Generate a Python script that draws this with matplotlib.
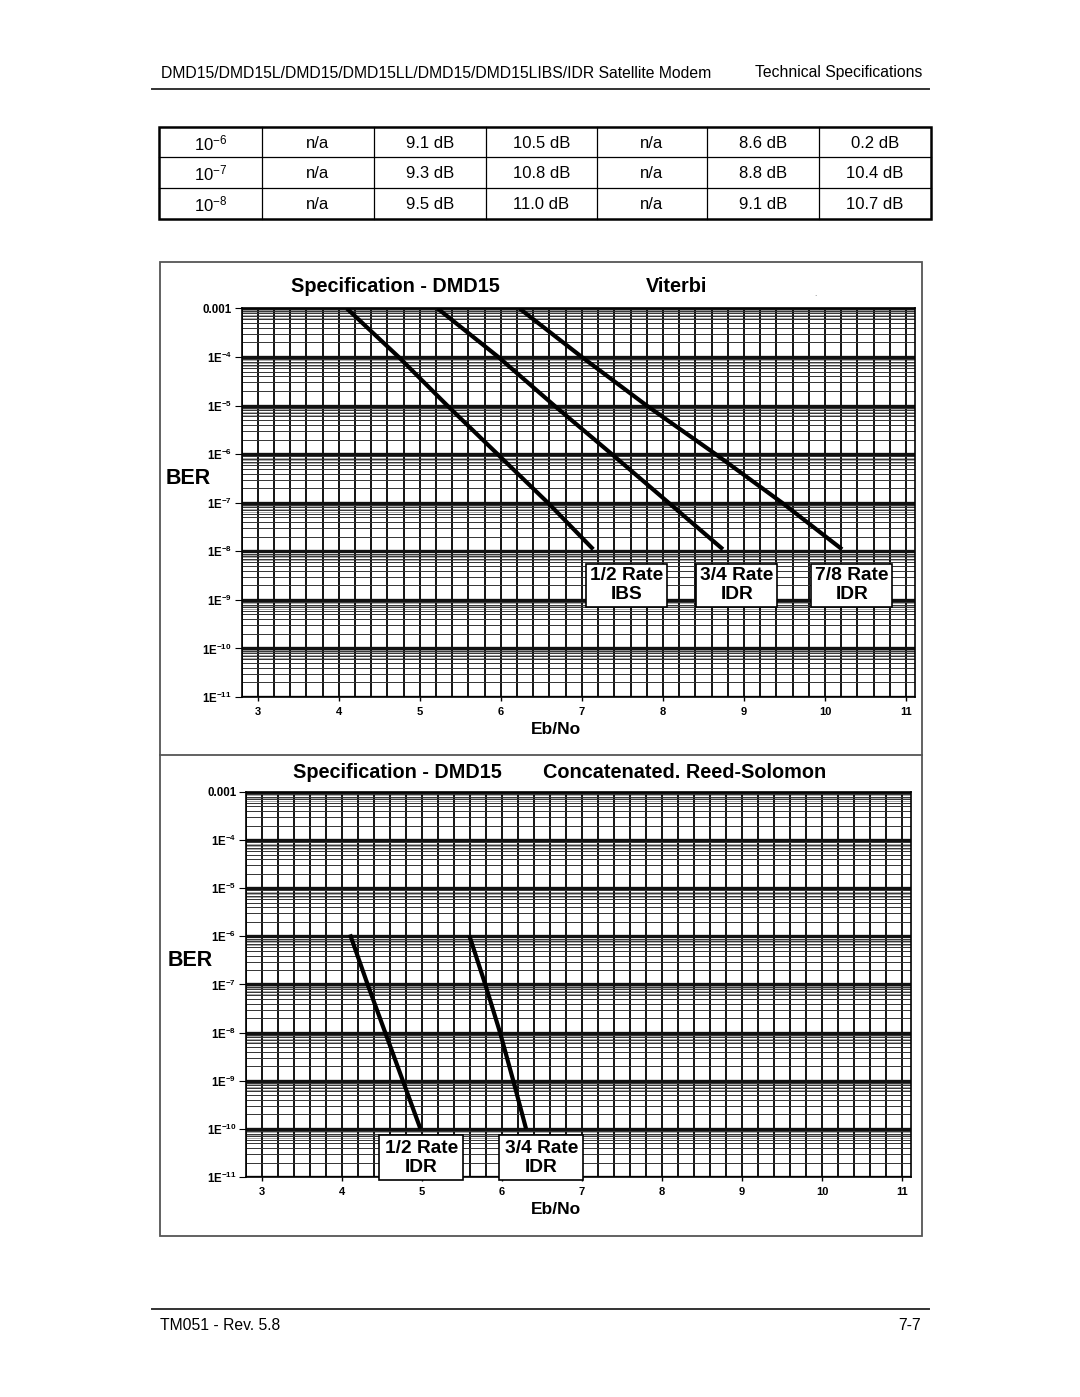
import matplotlib
matplotlib.use('Agg')
import matplotlib.pyplot as plt
import numpy as np
from matplotlib.patches import Rectangle
from matplotlib.ticker import LogLocator, NullFormatter

plt.rcParams['font.family'] = ['Liberation Sans', 'DejaVu Sans']
plt.rcParams['mathtext.fontset'] = 'custom'
plt.rcParams['mathtext.rm'] = 'Liberation Sans'
plt.rcParams['mathtext.bf'] = 'Liberation Sans:bold'
plt.rcParams['mathtext.it'] = 'Liberation Sans:italic'

# ---------------- data ----------------
header_left = "DMD15/DMD15L/DMD15/DMD15LL/DMD15/DMD15LIBS/IDR Satellite Modem"
header_right = "Technical Specifications"
footer_left = "TM051 - Rev. 5.8"
footer_right = "7-7"

table_ber_exp = ["-6", "-7", "-8"]
table_col1 = ["n/a", "n/a", "n/a"]
table_col2 = ["9.1 dB", "9.3 dB", "9.5 dB"]
table_col3 = ["10.5 dB", "10.8 dB", "11.0 dB"]
table_col4 = ["n/a", "n/a", "n/a"]
table_col5 = ["8.6 dB", "8.8 dB", "9.1 dB"]
table_col6 = ["0.2 dB", "10.4 dB", "10.7 dB"]

x_ticks = [3, 4, 5, 6, 7, 8, 9, 10, 11]
y_ticks = [1e-3, 1e-4, 1e-5, 1e-6, 1e-7, 1e-8, 1e-9, 1e-10, 1e-11]
y_tick_labels = ["0.001", r"$\mathbf{1E^{-4}}$", r"$\mathbf{1E^{-5}}$", r"$\mathbf{1E^{-6}}$",
                 r"$\mathbf{1E^{-7}}$", r"$\mathbf{1E^{-8}}$", r"$\mathbf{1E^{-9}}$",
                 r"$\mathbf{1E^{-10}}$", r"$\mathbf{1E^{-11}}$"]

# Viterbi curves (Eb/No dB, BER)
vit_half_ibs_x = [4.10, 4.74, 5.34, 5.96, 6.58, 7.14]
vit_half_ibs_y = [1e-3, 1e-4, 1e-5, 1e-6, 1e-7, 1.1e-8]
vit_34_idr_x = [5.22, 5.97, 6.66, 7.37, 8.07, 8.74]
vit_34_idr_y = [1e-3, 1e-4, 1e-5, 1e-6, 1e-7, 1.1e-8]
vit_78_idr_x = [6.23, 7.00, 7.80, 8.65, 9.47, 10.21]
vit_78_idr_y = [1e-3, 1e-4, 1e-5, 1e-6, 1e-7, 1.1e-8]

# Concatenated Reed-Solomon curves
rs_half_idr_x = [4.10, 4.32, 4.54, 4.76, 4.98]
rs_half_idr_y = [1.1e-6, 1e-7, 1e-8, 1e-9, 1e-10]
rs_34_idr_x = [5.59, 5.79, 5.975, 6.14, 6.30]
rs_34_idr_y = [1.05e-6, 1e-7, 1e-8, 1e-9, 1e-10]

vit_labels = ["1/2 Rate\nIBS", "3/4 Rate\nIDR", "7/8 Rate\nIDR"]
rs_labels = ["1/2 Rate\nIDR", "3/4 Rate\nIDR"]

# ---------------- figure ----------------
W, H = 1080, 1397
fig = plt.figure(figsize=(W / 100, H / 100), dpi=100)
fig.patch.set_facecolor('white')

page = fig.add_axes([0, 0, 1, 1])
page.set_xlim(0, W)
page.set_ylim(H, 0)
page.axis('off')
page.set_zorder(0)

hfs = 11.3
page.text(161, 73, header_left, fontsize=hfs, ha='left', va='center')
page.text(922, 73, header_right, fontsize=hfs, ha='right', va='center')
page.plot([152, 929], [89, 89], color='#333333', lw=1.4)

page.plot([152, 929], [1309, 1309], color='#333333', lw=1.4)
page.text(160, 1326, footer_left, fontsize=hfs, ha='left', va='center')
page.text(921, 1326, footer_right, fontsize=hfs, ha='right', va='center')

# table
col_edges = [159, 262, 374, 486, 597, 707, 819, 931]
row_edges = [127, 157, 188, 219]
for xe in col_edges[1:-1]:
    page.plot([xe, xe], [row_edges[0], row_edges[-1]], color='black', lw=0.9)
for ye in row_edges[1:-1]:
    page.plot([col_edges[0], col_edges[-1]], [ye, ye], color='black', lw=0.9)
page.add_patch(Rectangle((col_edges[0], row_edges[0]), col_edges[-1] - col_edges[0],
                         row_edges[-1] - row_edges[0], fill=False, ec='black', lw=1.8))
cols = [table_col1, table_col2, table_col3, table_col4, table_col5, table_col6]
for r in range(3):
    yc = (row_edges[r] + row_edges[r + 1]) / 2 + 1
    xc0 = (col_edges[0] + col_edges[1]) / 2
    page.text(xc0, yc, "10$^{\\mathregular{" + table_ber_exp[r] + "}}$", fontsize=12,
              ha='center', va='center')
    for c in range(6):
        xc = (col_edges[c + 1] + col_edges[c + 2]) / 2
        page.text(xc, yc, cols[c][r], fontsize=12, ha='center', va='center')

# chart frame
page.add_patch(Rectangle((160, 262), 762, 974, fill=False, ec='#555555', lw=1.3))
page.plot([160, 922], [755, 755], color='#555555', lw=1.3)

# titles
tfs = 14.3
page.text(395, 287, "Specification - DMD15", fontsize=tfs, fontweight='bold', ha='center', va='center')
page.text(677, 287, "Viterbi", fontsize=tfs, fontweight='bold', ha='center', va='center')
page.text(815, 294, ".", fontsize=6, ha='center', va='center', color='#666666')
page.text(397, 772, "Specification - DMD15", fontsize=tfs, fontweight='bold', ha='center', va='center')
page.text(685, 772, "Concatenated. Reed-Solomon", fontsize=tfs, fontweight='bold', ha='center', va='center')
page.text(188, 478, "BER", fontsize=15.5, fontweight='bold', ha='center', va='center')
page.text(190, 960, "BER", fontsize=15.5, fontweight='bold', ha='center', va='center')
page.text(556, 730, "Eb/No", fontsize=12.5, fontweight='bold', ha='center', va='center')
page.text(556, 1209, "Eb/No", fontsize=12.5, fontweight='bold', ha='center', va='center')


def setup_chart(rect):
    ax = fig.add_axes(rect)
    ax.set_zorder(2)
    ax.set_yscale('log')
    ax.set_xlim(2.8, 11.11)
    ax.set_ylim(1e-11, 1e-3)
    ax.set_xticks(x_ticks)
    ax.set_xticklabels([str(t) for t in x_ticks], fontsize=8, fontweight='bold')
    ax.set_xticks(np.arange(2.8, 11.15, 0.2), minor=True)
    ax.set_yticks(y_ticks)
    ax.set_yticklabels(y_tick_labels, fontsize=8.3, fontweight='bold')
    ax.yaxis.set_minor_locator(LogLocator(base=10, subs=np.arange(2, 10), numticks=20))
    ax.yaxis.set_minor_formatter(NullFormatter())
    ax.tick_params(axis='x', which='major', direction='out', length=3, width=1.0, pad=4.5)
    ax.tick_params(axis='y', which='major', direction='out', length=5, width=0.8, pad=2)
    ax.tick_params(which='minor', length=0)
    ax.grid(True, axis='x', which='both', color='black', lw=1.3)
    ax.grid(True, axis='y', which='major', color='#111111', lw=2.4)
    ax.grid(True, axis='y', which='minor', color='#333333', lw=0.7)
    for dec in range(-11, -3):
        for s in [6.5, 7.5, 8.5, 9.5]:
            ax.axhline(s * 10.0 ** dec, color='#9a9a9a', lw=0.6, zorder=0.5)
    ax.set_axisbelow(True)
    for sp in ax.spines.values():
        sp.set_color('black')
        sp.set_linewidth(1.2)
    return ax


def add_label(ax, xc, ylog, w, h, txt):
    x0 = xc - w / 2
    y0 = 10 ** (ylog - h / 2)
    y1 = 10 ** (ylog + h / 2)
    ax.add_patch(Rectangle((x0, y0), w, y1 - y0, fc='white', ec='black', lw=1.2,
                           zorder=5, clip_on=False))
    ax.text(xc, 10 ** ylog, txt, ha='center', va='center', fontsize=13.8, fontweight='bold',
            linespacing=1.13, zorder=6)


# top chart (Viterbi)
ax1 = setup_chart([241.5 / W, 1 - 697 / H, (915 - 241.5) / W, (697 - 308.5) / H])
for xs, ys in [(vit_half_ibs_x, vit_half_ibs_y), (vit_34_idr_x, vit_34_idr_y),
               (vit_78_idr_x, vit_78_idr_y)]:
    ax1.plot(xs, ys, color='black', lw=3.0, solid_capstyle='butt', solid_joinstyle='round', zorder=4)
for xc, txt in zip([7.55, 8.91, 10.33], vit_labels):
    add_label(ax1, xc, -8.694, 1.0, 0.886, txt)

# bottom chart (Concatenated RS)
ax2 = setup_chart([246 / W, 1 - 1177 / H, (911 - 246) / W, (1177 - 792) / H])
for xs, ys in [(rs_half_idr_x, rs_half_idr_y), (rs_34_idr_x, rs_34_idr_y)]:
    ax2.plot(xs, ys, color='black', lw=3.0, solid_capstyle='butt', solid_joinstyle='round', zorder=4)
for xc, txt in zip([4.99, 6.49], rs_labels):
    add_label(ax2, xc, -10.6, 1.05, 0.94, txt)

fig.savefig('out.png', dpi=100, facecolor='white')
